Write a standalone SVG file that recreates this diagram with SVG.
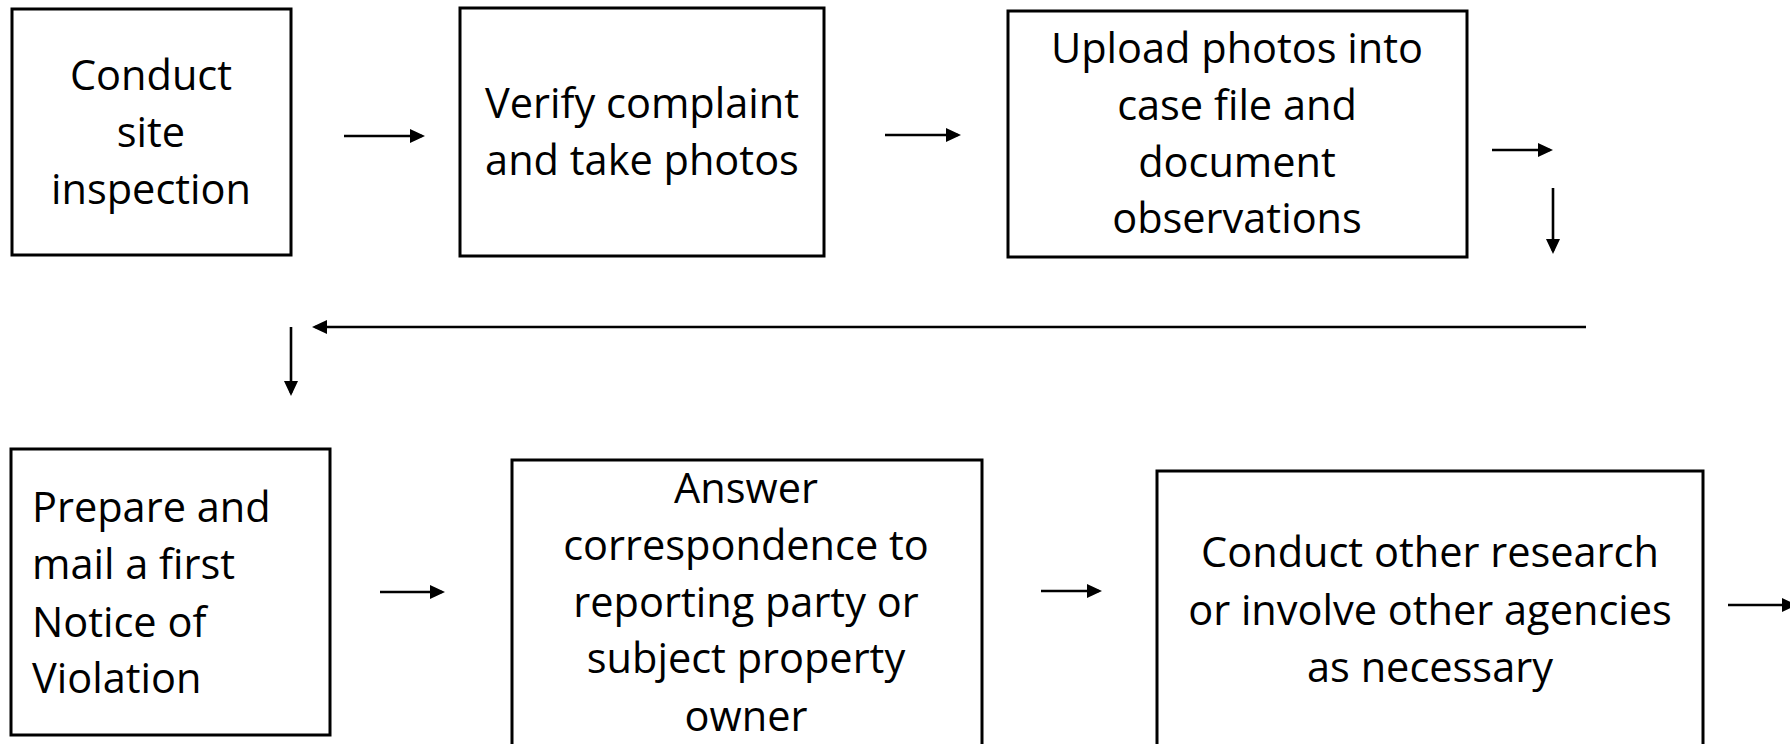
<svg xmlns="http://www.w3.org/2000/svg" width="1790" height="744" viewBox="0 0 1790 744">
  <style>
    .box { fill: #ffffff; stroke: #000000; stroke-width: 3; }
    .lbl { font-family: "Open Sans", "Liberation Sans", sans-serif; font-size: 41.5px; fill: #000000; }
    .c { text-anchor: middle; }
    .conn { stroke: #000000; stroke-width: 2.6; fill: none; marker-end: url(#ah); }
  </style>
  <defs>
    <marker id="ah" markerUnits="userSpaceOnUse" markerWidth="16" markerHeight="16" refX="12" refY="7" orient="auto">
      <path d="M0,0 L15,7 L0,14 z" fill="#000000"/>
    </marker>
  </defs>
  <rect width="1790" height="744" fill="#ffffff"/>

  <g id="n1">
    <rect class="box" x="12" y="9" width="279" height="246"/>
    <text class="lbl c" x="151" y="90">Conduct</text>
    <text class="lbl c" x="151" y="147">site</text>
    <text class="lbl c" x="151" y="204">inspection</text>
  </g>
  <g id="n2">
    <rect class="box" x="460" y="8" width="364" height="248"/>
    <text class="lbl c" x="642" y="118">Verify complaint</text>
    <text class="lbl c" x="642" y="175">and take photos</text>
  </g>
  <g id="n3">
    <rect class="box" x="1008" y="11" width="459" height="246"/>
    <text class="lbl c" x="1237" y="63">Upload photos into</text>
    <text class="lbl c" x="1237" y="120">case file and</text>
    <text class="lbl c" x="1237" y="177">document</text>
    <text class="lbl c" x="1237" y="233">observations</text>
  </g>
  <g id="n4">
    <rect class="box" x="11" y="449" width="319" height="286"/>
    <text class="lbl" x="32" y="522">Prepare and</text>
    <text class="lbl" x="32" y="579">mail a first</text>
    <text class="lbl" x="32" y="637">Notice of</text>
    <text class="lbl" x="32" y="693">Violation</text>
  </g>
  <g id="n5">
    <rect class="box" x="512" y="460" width="470" height="300"/>
    <text class="lbl c" x="746" y="503">Answer</text>
    <text class="lbl c" x="746" y="560">correspondence to</text>
    <text class="lbl c" x="746" y="617">reporting party or</text>
    <text class="lbl c" x="746" y="673">subject property</text>
    <text class="lbl c" x="746" y="731">owner</text>
  </g>
  <g id="n6">
    <rect class="box" x="1157" y="471" width="546" height="290"/>
    <text class="lbl c" x="1430" y="567">Conduct other research</text>
    <text class="lbl c" x="1430" y="625">or involve other agencies</text>
    <text class="lbl c" x="1430" y="682">as necessary</text>
  </g>

  <g id="connectors">
    <line class="conn" x1="344" y1="136" x2="422" y2="136"/>
    <line class="conn" x1="885" y1="135" x2="958" y2="135"/>
    <line class="conn" x1="1492" y1="150" x2="1550" y2="150"/>
    <line class="conn" x1="1553" y1="188" x2="1553" y2="251"/>
    <line class="conn" x1="1586" y1="327" x2="315" y2="327"/>
    <line class="conn" x1="291" y1="327" x2="291" y2="393"/>
    <line class="conn" x1="380" y1="592" x2="442" y2="592"/>
    <line class="conn" x1="1041" y1="591" x2="1099" y2="591"/>
    <line class="conn" x1="1728" y1="605" x2="1794" y2="605"/>
  </g>
</svg>
